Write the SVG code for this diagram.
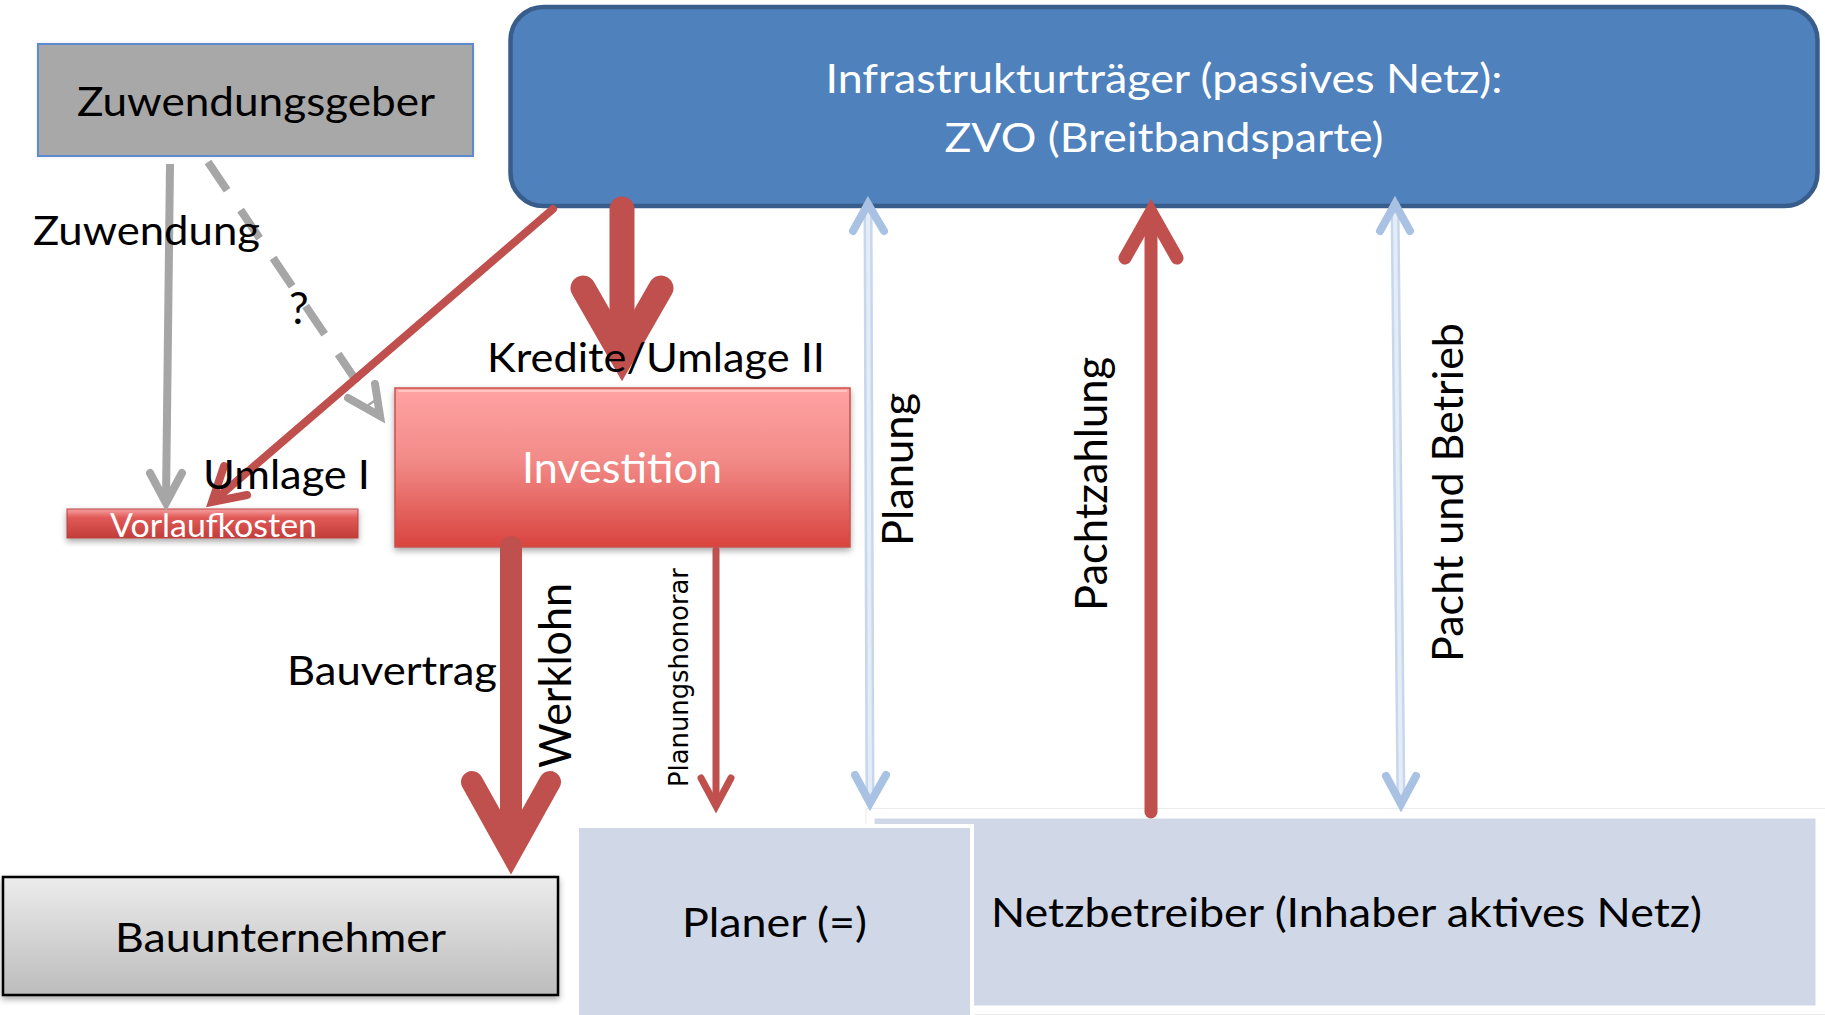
<svg xmlns="http://www.w3.org/2000/svg" width="1825" height="1015" viewBox="0 0 1825 1015">
<defs>
  <linearGradient id="gRed" x1="0" y1="0" x2="0" y2="1">
    <stop offset="0" stop-color="#ffa3a3"/>
    <stop offset="0.45" stop-color="#f28b88"/>
    <stop offset="1" stop-color="#d9443f"/>
  </linearGradient>
  <linearGradient id="gBar" x1="0" y1="0" x2="0" y2="1">
    <stop offset="0" stop-color="#f7a0a0"/>
    <stop offset="0.3" stop-color="#e05a57"/>
    <stop offset="1" stop-color="#c23c3a"/>
  </linearGradient>
  <linearGradient id="gGray" x1="0" y1="0" x2="0" y2="1">
    <stop offset="0" stop-color="#ececec"/>
    <stop offset="1" stop-color="#bcbcbc"/>
  </linearGradient>
  <filter id="sh" x="-10%" y="-20%" width="120%" height="150%">
    <feDropShadow dx="0" dy="3" stdDeviation="3" flood-color="#000" flood-opacity="0.35"/>
  </filter>
  <filter id="shLight" x="-5%" y="-10%" width="110%" height="120%">
    <feDropShadow dx="0" dy="0" stdDeviation="1.5" flood-color="#000" flood-opacity="0.12"/>
  </filter>
  <style>
    .t { font-family: "Lato", "Open Sans", sans-serif; fill: #000; }
    .w { fill: #fff; }
    .red { fill: none; stroke: #c0504d; stroke-linecap: round; stroke-linejoin: miter; }
    .gray { fill: none; stroke: #a6a6a6; stroke-width: 8; }
    .blueOuter { fill: none; stroke: #c7d7ec; stroke-width: 9; }
    .blueInner { fill: none; stroke: #e4ecf7; stroke-width: 4; }
    .blueHead { fill: none; stroke: #a9c2e3; stroke-width: 8; stroke-linecap: round; stroke-linejoin: miter; }
  </style>
</defs>
<rect width="1825" height="1015" fill="#fff"/>

<g id="node-infrastruktur">
  <rect x="510.5" y="7" width="1307" height="199" rx="33" ry="33" fill="#4f81bd" stroke="#385d8a" stroke-width="4.5"/>
  <text class="t w" x="1164" y="93" font-size="40" text-anchor="middle" textLength="677" lengthAdjust="spacingAndGlyphs">Infrastrukturträger (passives Netz):</text>
  <text class="t w" x="1164" y="152" font-size="40" text-anchor="middle" textLength="439" lengthAdjust="spacingAndGlyphs">ZVO (Breitbandsparte)</text>
</g>

<g id="node-zuwendungsgeber">
  <rect x="38" y="44" width="435" height="112" fill="#a8a8a8" stroke="#5b8bd0" stroke-width="2" filter="url(#shLight)"/>
  <text class="t" x="77" y="116" font-size="40" textLength="358" lengthAdjust="spacingAndGlyphs">Zuwendungsgeber</text>
</g>

<g id="node-netzbetreiber">
  <rect x="866" y="808.5" width="962" height="206" fill="none" stroke="#ebebeb" stroke-width="1"/>
  <rect x="873" y="817" width="944" height="190" fill="#d0d8e8" stroke="#fff" stroke-width="3"/>
  <text class="t" x="991" y="927" font-size="40" textLength="711" lengthAdjust="spacingAndGlyphs">Netzbetreiber (Inhaber aktives Netz)</text>
</g>

<g id="node-planer">
  <rect x="577" y="826" width="395" height="200" fill="#d0d8e8" stroke="#fff" stroke-width="4"/>
  <text class="t" x="682" y="937" font-size="40" textLength="185" lengthAdjust="spacingAndGlyphs">Planer (=)</text>
</g>

<g id="node-bauunternehmer">
  <rect x="3" y="877" width="555" height="118" fill="url(#gGray)" stroke="#000" stroke-width="2.5" filter="url(#sh)"/>
  <text class="t" x="115" y="952" font-size="40" textLength="331" lengthAdjust="spacingAndGlyphs">Bauunternehmer</text>
</g>

<g id="node-investition">
  <rect x="395" y="388" width="455" height="159" fill="url(#gRed)" stroke="#c9524e" stroke-width="1.5" filter="url(#sh)"/>
  <line x1="398" y1="391" x2="847" y2="391" stroke="#ffc4c4" stroke-width="2"/>
  <text class="t w" x="522" y="483" font-size="42" textLength="200" lengthAdjust="spacingAndGlyphs">Investition</text>
</g>

<g id="node-vorlaufkosten">
  <rect x="67" y="509" width="291" height="29" fill="url(#gBar)" stroke="#b84340" stroke-width="1" filter="url(#sh)"/>
  <text class="t w" x="110" y="537" font-size="32" textLength="207" lengthAdjust="spacingAndGlyphs">Vorlaufkosten</text>
</g>

<g id="connectors">
  <!-- Zuwendung (gray solid) -->
  <line class="gray" x1="170" y1="164" x2="166" y2="500"/>
  <path class="gray" d="M150,473 L166,503 L182,473" stroke-linecap="round"/>
  <!-- ? (gray dashed) -->
  <line class="gray" x1="208" y1="162" x2="372" y2="404" stroke-dasharray="34 24"/>
  <path class="gray" d="M348,398 L380,416 L375,384" stroke-linecap="round"/>
  <!-- Umlage I (red thin diagonal) -->
  <line class="red" x1="553" y1="209" x2="216" y2="499" stroke-width="8" stroke-linecap="butt"/>
  <path class="red" d="M247,495 L212,502 L224,466" stroke-width="8"/>
  <!-- Kredite/Umlage II (thick red down) -->
  <line class="red" x1="622" y1="209" x2="622" y2="350" stroke-width="25" stroke-linecap="butt"/>
  <path class="red" d="M583,288 L622,356 L661,288" stroke-width="25"/>
  <!-- Werklohn (thick red down) -->
  <line class="red" x1="511" y1="547" x2="511" y2="845" stroke-width="22" stroke-linecap="butt"/>
  <path class="red" d="M472,782 L511,852 L550,782" stroke-width="22"/>
  <!-- Planungshonorar (thin red down) -->
  <line class="red" x1="716" y1="550" x2="716" y2="800" stroke-width="7" stroke-linecap="butt"/>
  <path class="red" d="M701,778 L716,806 L731,778" stroke-width="7"/>
  <!-- Pachtzahlung (red up) -->
  <line class="red" x1="1151" y1="812" x2="1151" y2="218" stroke-width="13" stroke-linecap="butt"/>
  <path class="red" d="M1125,258 L1151,212 L1177,258" stroke-width="13"/>
  <!-- Planung (light blue double) -->
  <line class="blueOuter" x1="868" y1="204" x2="870" y2="802"/>
  <line class="blueInner" x1="868" y1="204" x2="870" y2="802"/>
  <path class="blueHead" d="M853,231 L868,204 L884,231"/>
  <path class="blueHead" d="M855,775 L870,803 L886,775"/>
  <!-- Pacht und Betrieb (light blue double) -->
  <line class="blueOuter" x1="1395" y1="204" x2="1401" y2="803"/>
  <line class="blueInner" x1="1395" y1="204" x2="1401" y2="803"/>
  <path class="blueHead" d="M1380,231 L1395,204 L1410,231"/>
  <path class="blueHead" d="M1386,776 L1401,804 L1416,776"/>
</g>

<g id="labels">
  <text class="t" x="33" y="245" font-size="40" textLength="227" lengthAdjust="spacingAndGlyphs">Zuwendung</text>
  <text class="t" x="289" y="324" font-size="44">?</text>
  <text class="t" x="203" y="489" font-size="40" textLength="167" lengthAdjust="spacingAndGlyphs">Umlage I</text>
  <text class="t" x="487" y="372" font-size="40" textLength="338" lengthAdjust="spacingAndGlyphs">Kredite/Umlage II</text>
  <text class="t" x="287" y="685" font-size="40" textLength="210" lengthAdjust="spacingAndGlyphs">Bauvertrag</text>
  <text class="t" transform="translate(571,768) rotate(-90)" font-size="45" textLength="185" lengthAdjust="spacingAndGlyphs">Werklohn</text>
  <text transform="translate(688,787) rotate(-90)" font-family="DejaVu Sans, Verdana, sans-serif" font-size="27" fill="#000" textLength="219" lengthAdjust="spacingAndGlyphs">Planungshonorar</text>
  <text class="t" transform="translate(913,546) rotate(-90)" font-size="43" textLength="153" lengthAdjust="spacingAndGlyphs">Planung</text>
  <text class="t" transform="translate(1107,611) rotate(-90)" font-size="44" textLength="254" lengthAdjust="spacingAndGlyphs">Pachtzahlung</text>
  <text class="t" transform="translate(1463,662) rotate(-90)" font-size="42" textLength="339" lengthAdjust="spacingAndGlyphs">Pacht und Betrieb</text>
</g>
</svg>
